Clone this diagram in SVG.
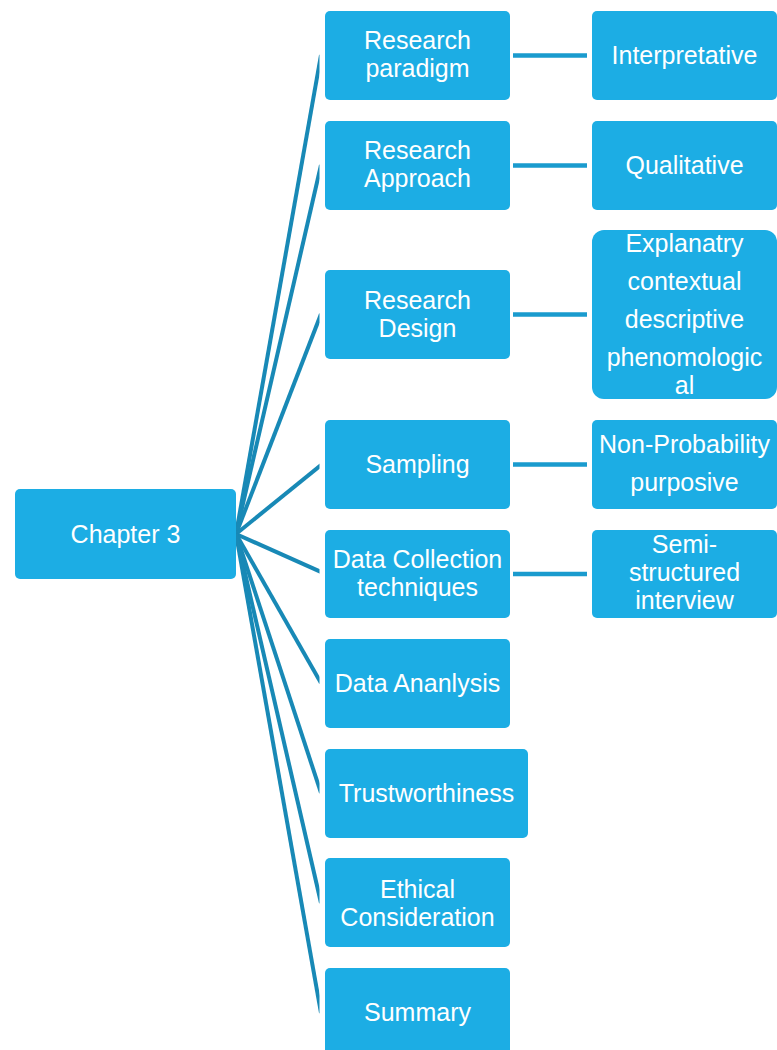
<svg xmlns="http://www.w3.org/2000/svg" width="777" height="1050" viewBox="0 0 777 1050">
  <style>
    .box { fill: #1CADE4; }
    .lbl { fill: #FFFFFF; font-family: "Liberation Sans", Arial, sans-serif; font-size: 25px; text-anchor: middle; }
    .fan { stroke: #1889B6; stroke-width: 4; fill: none; }
    .link { stroke: #1A9BCE; stroke-width: 4.5; fill: none; }
  </style>
  <defs>
    <clipPath id="fanClip">
      <rect x="0" y="0" width="319.5" height="1050"/>
    </clipPath>
  </defs>
  <rect x="0" y="0" width="777" height="1050" fill="#FFFFFF"/>

  <!-- connectors -->
  <g id="connectors">
    <g clip-path="url(#fanClip)">
      <line class="fan" x1="236" y1="534" x2="321" y2="55"/>
      <line class="fan" x1="236" y1="534" x2="321" y2="165"/>
      <line class="fan" x1="236" y1="534" x2="321" y2="314"/>
      <line class="fan" x1="236" y1="534" x2="321" y2="465"/>
      <line class="fan" x1="236" y1="534" x2="321" y2="572"/>
      <line class="fan" x1="236" y1="534" x2="321" y2="683"/>
      <line class="fan" x1="236" y1="534" x2="321" y2="793"/>
      <line class="fan" x1="236" y1="534" x2="321" y2="903"/>
      <line class="fan" x1="236" y1="534" x2="321" y2="1013"/>
    </g>
    <line class="link" x1="513" y1="55.5" x2="587" y2="55.5"/>
    <line class="link" x1="513" y1="165.5" x2="587" y2="165.5"/>
    <line class="link" x1="513" y1="314.5" x2="587" y2="314.5"/>
    <line class="link" x1="513" y1="464.5" x2="587" y2="464.5"/>
    <line class="link" x1="513" y1="574" x2="587" y2="574"/>
  </g>

  <!-- root -->
  <g id="chapter3">
    <rect class="box" x="15" y="489" width="221" height="90" rx="5"/>
    <text class="lbl" x="125.5" y="543">Chapter 3</text>
  </g>

  <!-- second level -->
  <g id="research-paradigm">
    <rect class="box" x="325" y="11" width="185" height="89" rx="5"/>
    <text class="lbl" x="417.5" y="49">Research</text>
    <text class="lbl" x="417.5" y="77">paradigm</text>
  </g>
  <g id="research-approach">
    <rect class="box" x="325" y="121" width="185" height="89" rx="5"/>
    <text class="lbl" x="417.5" y="159">Research</text>
    <text class="lbl" x="417.5" y="187">Approach</text>
  </g>
  <g id="research-design">
    <rect class="box" x="325" y="270" width="185" height="89" rx="5"/>
    <text class="lbl" x="417.5" y="308.5">Research</text>
    <text class="lbl" x="417.5" y="336.5">Design</text>
  </g>
  <g id="sampling">
    <rect class="box" x="325" y="420" width="185" height="89" rx="5"/>
    <text class="lbl" x="417.5" y="473">Sampling</text>
  </g>
  <g id="data-collection">
    <rect class="box" x="325" y="530" width="185" height="88" rx="5"/>
    <text class="lbl" x="417.5" y="568">Data Collection</text>
    <text class="lbl" x="417.5" y="596">techniques</text>
  </g>
  <g id="data-analysis">
    <rect class="box" x="325" y="639" width="185" height="89" rx="5"/>
    <text class="lbl" x="417.5" y="692">Data Ananlysis</text>
  </g>
  <g id="trustworthiness">
    <rect class="box" x="325" y="749" width="203" height="89" rx="5"/>
    <text class="lbl" x="426.5" y="802">Trustworthiness</text>
  </g>
  <g id="ethical-consideration">
    <rect class="box" x="325" y="858" width="185" height="89" rx="5"/>
    <text class="lbl" x="417.5" y="898">Ethical</text>
    <text class="lbl" x="417.5" y="926">Consideration</text>
  </g>
  <g id="summary">
    <rect class="box" x="325" y="968" width="185" height="89" rx="5"/>
    <text class="lbl" x="417.5" y="1020.5">Summary</text>
  </g>

  <!-- third level -->
  <g id="interpretative">
    <rect class="box" x="592" y="11" width="185" height="89" rx="5"/>
    <text class="lbl" x="684.5" y="64">Interpretative</text>
  </g>
  <g id="qualitative">
    <rect class="box" x="592" y="121" width="185" height="89" rx="5"/>
    <text class="lbl" x="684.5" y="174">Qualitative</text>
  </g>
  <g id="design-types">
    <rect class="box" x="592" y="230" width="185" height="169" rx="12"/>
    <text class="lbl" x="684.5" y="252">Explanatry</text>
    <text class="lbl" x="684.5" y="290">contextual</text>
    <text class="lbl" x="684.5" y="327.5">descriptive</text>
    <text class="lbl" x="684.5" y="366">phenomologic</text>
    <text class="lbl" x="684.5" y="394">al</text>
  </g>
  <g id="sampling-type">
    <rect class="box" x="592" y="420" width="185" height="89" rx="5"/>
    <text class="lbl" x="684.5" y="453">Non-Probability</text>
    <text class="lbl" x="684.5" y="491">purposive</text>
  </g>
  <g id="interview">
    <rect class="box" x="592" y="530" width="185" height="88" rx="5"/>
    <text class="lbl" x="684.5" y="553">Semi-</text>
    <text class="lbl" x="684.5" y="581">structured</text>
    <text class="lbl" x="684.5" y="609">interview</text>
  </g>
</svg>
